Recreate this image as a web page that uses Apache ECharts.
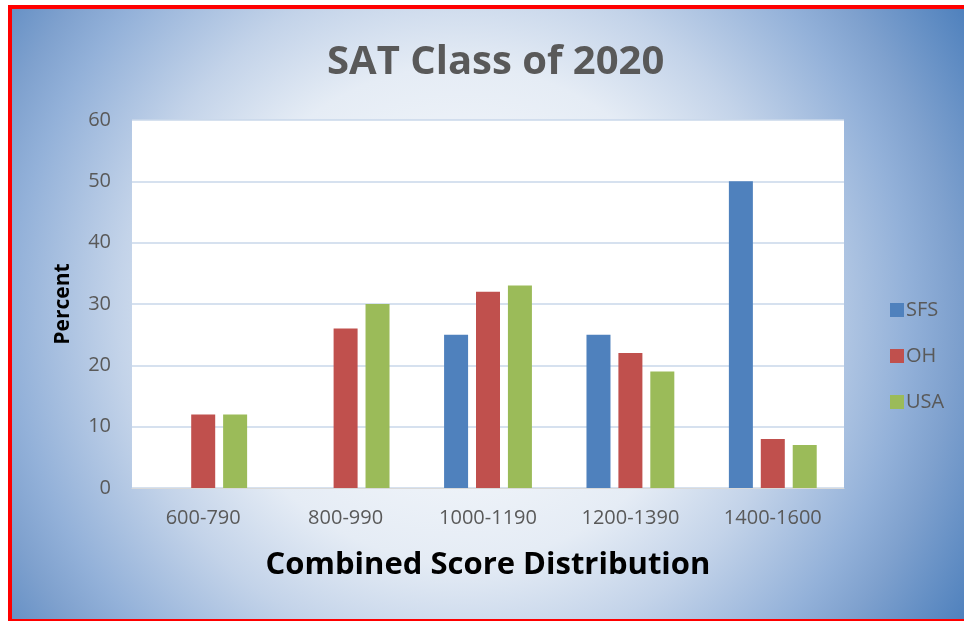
<!DOCTYPE html>
<html>
<head>
<meta charset="utf-8">
<script src="https://cdn.jsdelivr.net/npm/echarts@6/dist/echarts.min.js"></script>
<style>
  html, body { margin: 0; padding: 0; background: #fff; }
  .frame {
    position: absolute;
    left: 8px;
    top: 5px;
    width: 952px;
    height: 610px;
    border-left: 4px solid #ff0000;
    border-top: 4px solid #ff0000;
    border-bottom: 2px solid #ff0000;
    background: radial-gradient(circle farthest-corner at 47% 50%, #ffffff 0%, #e5ecf5 42%, #c3d3e9 58%, #93b1d9 76%, #7fa1ce 84%, #4f81bd 100%);
  }
  #chart { position: absolute; left: 0; top: 0; width: 964px; height: 621px; }
</style>
</head>
<body>
<div class="frame"></div>
<div id="chart"></div>
<script>
  const categories = ["600-790", "800-990", "1000-1190", "1200-1390", "1400-1600"];
  const sfsValues = [0, 0, 25, 25, 50];
  const ohValues = [12, 26, 32, 22, 8];
  const usaValues = [12, 30, 33, 19, 7];

  const chartInstance = echarts.init(document.getElementById("chart"));
  const labelColor = "#595959";
  const font = "'Open Sans', sans-serif";

  const option = {
    backgroundColor: "transparent",
    animation: false,
    color: ["#4f81bd", "#c0504d", "#9bbb59"],
    title: {
      text: "SAT Class of 2020",
      left: 322,
      top: 38,
      textStyle: {
        color: labelColor,
        fontSize: 40,
        fontWeight: "bold",
        fontFamily: font,
      },
    },
    legend: {
      orient: "vertical",
      left: 885,
      top: 295,
      itemWidth: 14,
      itemHeight: 14,
      itemGap: 26,
      icon: "rect",
      textStyle: {
        color: labelColor,
        fontSize: 20,
        fontFamily: font,
        padding: [0, 0, 0, -3],
      },
    },
    grid: {
      left: 132,
      right: 120,
      top: 120,
      bottom: 133,
      show: true,
      backgroundColor: "#ffffff",
      borderWidth: 0,
    },
    xAxis: {
      type: "category",
      data: categories,
      name: "Combined Score Distribution",
      nameLocation: "middle",
      nameGap: 62,
      nameTextStyle: {
        color: "#000",
        fontSize: 31,
        fontWeight: "bold",
        fontFamily: font,
      },
      axisLine: { lineStyle: { color: "#d9d9d9", width: 1 } },
      axisTick: { show: false },
      axisLabel: {
        color: labelColor,
        fontSize: 20,
        fontFamily: font,
        margin: 20,
      },
    },
    yAxis: {
      type: "value",
      min: 0,
      max: 60,
      interval: 10,
      name: "Percent",
      nameLocation: "middle",
      nameGap: 58,
      nameTextStyle: {
        color: "#000",
        fontSize: 21,
        fontWeight: "bold",
        fontFamily: font,
      },
      axisLine: { show: false },
      axisTick: { show: false },
      axisLabel: {
        color: labelColor,
        fontSize: 20,
        fontFamily: font,
        margin: 21,
      },
      splitLine: { lineStyle: { color: "#c9d7ea", width: 1.5 } },
    },
    series: [
      { name: "SFS", type: "bar", data: sfsValues, barWidth: 24, barGap: "33%" },
      { name: "OH", type: "bar", data: ohValues, barWidth: 24, barGap: "33%" },
      { name: "USA", type: "bar", data: usaValues, barWidth: 24, barGap: "33%" },
    ],
  };
  chartInstance.setOption(option);
</script>
</body>
</html>
